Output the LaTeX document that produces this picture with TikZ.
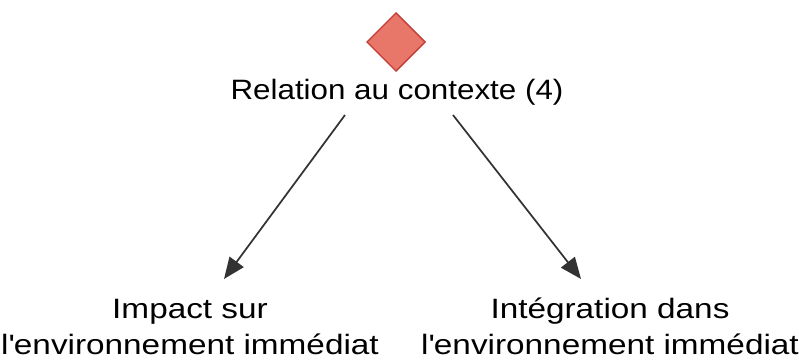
\documentclass[tikz,border=0pt]{standalone}
\usepackage{fontspec}
\setmainfont{Liberation Sans}[FakeStretch=1.12]
\newfontfamily\widefont{Liberation Sans}[FakeStretch=1.19]
\usetikzlibrary{shapes.geometric,arrows.meta}
\definecolor{dfill}{HTML}{E8776A}
\definecolor{dline}{HTML}{C43C36}
\definecolor{arr}{HTML}{333333}
\begin{document}
\begin{tikzpicture}[x=0.75pt,y=-0.75pt,
  lbl/.style={font=\fontsize{21}{27}\selectfont, text=black, align=center, inner sep=0pt, anchor=base},
  wlbl/.style={lbl, font=\widefont\fontsize{21}{27}\selectfont},
  conn/.style={draw=arr, line width=1.3pt, -{Triangle[length=16pt,width=13pt]}}]
\useasboundingbox (0,0) rectangle (799,360);
\node[diamond, draw=dline, fill=dfill, line width=1pt, minimum width=44pt, minimum height=44pt, inner sep=0pt] (d) at (396,42) {};
\node[lbl] (r) at (397,99) {Relation au contexte (4)};
\node[wlbl] (a) at (190,354) {Impact sur\\l\textquotesingle environnement immédiat};
\node[wlbl] (b) at (610,354) {Intégration dans\\l\textquotesingle environnement immédiat};
\coordinate (s1) at (345,115);
\coordinate (t1) at (224,279);
\coordinate (s2) at (453,115);
\coordinate (t2) at (581,279);
\draw[conn] (s1) -- (t1);
\draw[conn] (s2) -- (t2);
\end{tikzpicture}
\end{document}
